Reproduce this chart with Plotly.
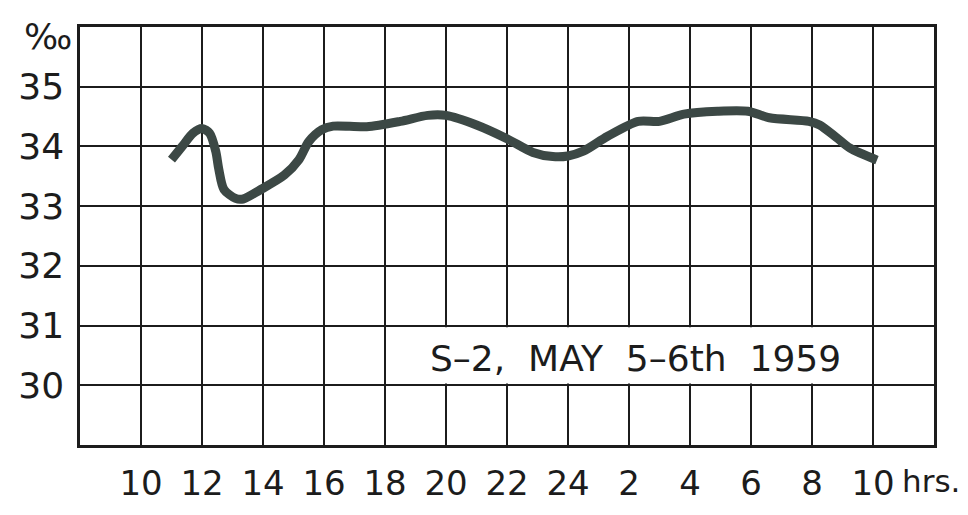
import plotly.graph_objects as go

# Salinity record, station S-2, May 5-6th 1959 (hours run on past midnight: 26 = 2 hrs next day)
hours = [11.0, 11.35, 11.7, 12.0, 12.25, 12.45, 12.55, 12.72, 13.1, 13.35, 13.9, 14.7,
         15.18, 15.5, 15.93, 16.3, 17.4, 18.5, 19.4, 20.0, 21.0, 22.0, 22.85, 23.5,
         24.0, 24.5, 25.3, 26.3, 27.0, 27.8, 28.9, 29.9, 30.6, 31.9, 32.25, 32.8,
         33.25, 34.13]
salinity = [33.78, 34.0, 34.22, 34.30, 34.22, 33.92, 33.62, 33.28, 33.13, 33.12, 33.27, 33.52,
            33.78, 34.08, 34.28, 34.34, 34.33, 34.42, 34.52, 34.52, 34.36, 34.13, 33.90, 33.83,
            33.84, 33.92, 34.17, 34.42, 34.42, 34.54, 34.59, 34.59, 34.48, 34.42, 34.36, 34.15,
            33.97, 33.77]

x_ticks = [10, 12, 14, 16, 18, 20, 22, 24, 26, 28, 30, 32, 34]
x_labels = ["10", "12", "14", "16", "18", "20", "22", "24", "2", "4", "6", "8", "10"]
y_ticks = [30, 31, 32, 33, 34, 35]
y_labels = ["30", "31", "32", "33", "34", "35"]

INK = "#1c1c1c"
FONT = dict(family="DejaVu Sans", size=34, color=INK)
YFONT = dict(FONT, size=36)
NB = "\u00a0"
caption = f"S\u20132,{NB}{NB}MAY{NB}{NB}5\u20136th{NB}{NB}1959"

fig = go.Figure()
fig.add_trace(go.Scatter(
    x=hours, y=salinity, mode="lines",
    line=dict(color="#3c4845", width=9, shape="spline", smoothing=0.8),
    hoverinfo="skip", showlegend=False,
))

fig.update_layout(
    width=968, height=515,
    margin=dict(l=80, r=34, t=27, b=54),
    paper_bgcolor="white", plot_bgcolor="white",
    font=FONT,
    xaxis=dict(
        range=[8, 36], tickvals=x_ticks, ticktext=x_labels,
        showgrid=True, gridcolor=INK, gridwidth=2, zeroline=False,
        showline=True, linecolor=INK, linewidth=2.5, mirror=True,
        ticks="", ticklabelstandoff=6, tickfont=FONT, fixedrange=True,
    ),
    yaxis=dict(
        range=[29, 36], tickvals=y_ticks, ticktext=y_labels,
        showgrid=True, gridcolor=INK, gridwidth=2, zeroline=False,
        showline=True, linecolor=INK, linewidth=2.5, mirror=True,
        ticks="", ticklabelstandoff=6, tickfont=YFONT, fixedrange=True,
    ),
    shapes=[
        # blank panel behind the station caption
        dict(type="rect", xref="x", yref="y", x0=18.06, x1=33.94, y0=30.03, y1=30.97,
             fillcolor="white", line=dict(width=0), layer="between"),
    ],
    annotations=[
        dict(text=caption, x=26.2, y=30.45, xref="x", yref="y",
             showarrow=False, font=dict(FONT, size=36)),
        dict(text="‰", x=0, y=35.84, xref="paper", yref="y", xanchor="right",
             xshift=-6, showarrow=False, font=YFONT),
        dict(text="hrs.", x=34, y=0, xref="x", yref="paper", xanchor="left", yanchor="top",
             xshift=27, yshift=-16, showarrow=False, font=dict(FONT, size=31)),
    ],
)

fig.write_html("out.html")
